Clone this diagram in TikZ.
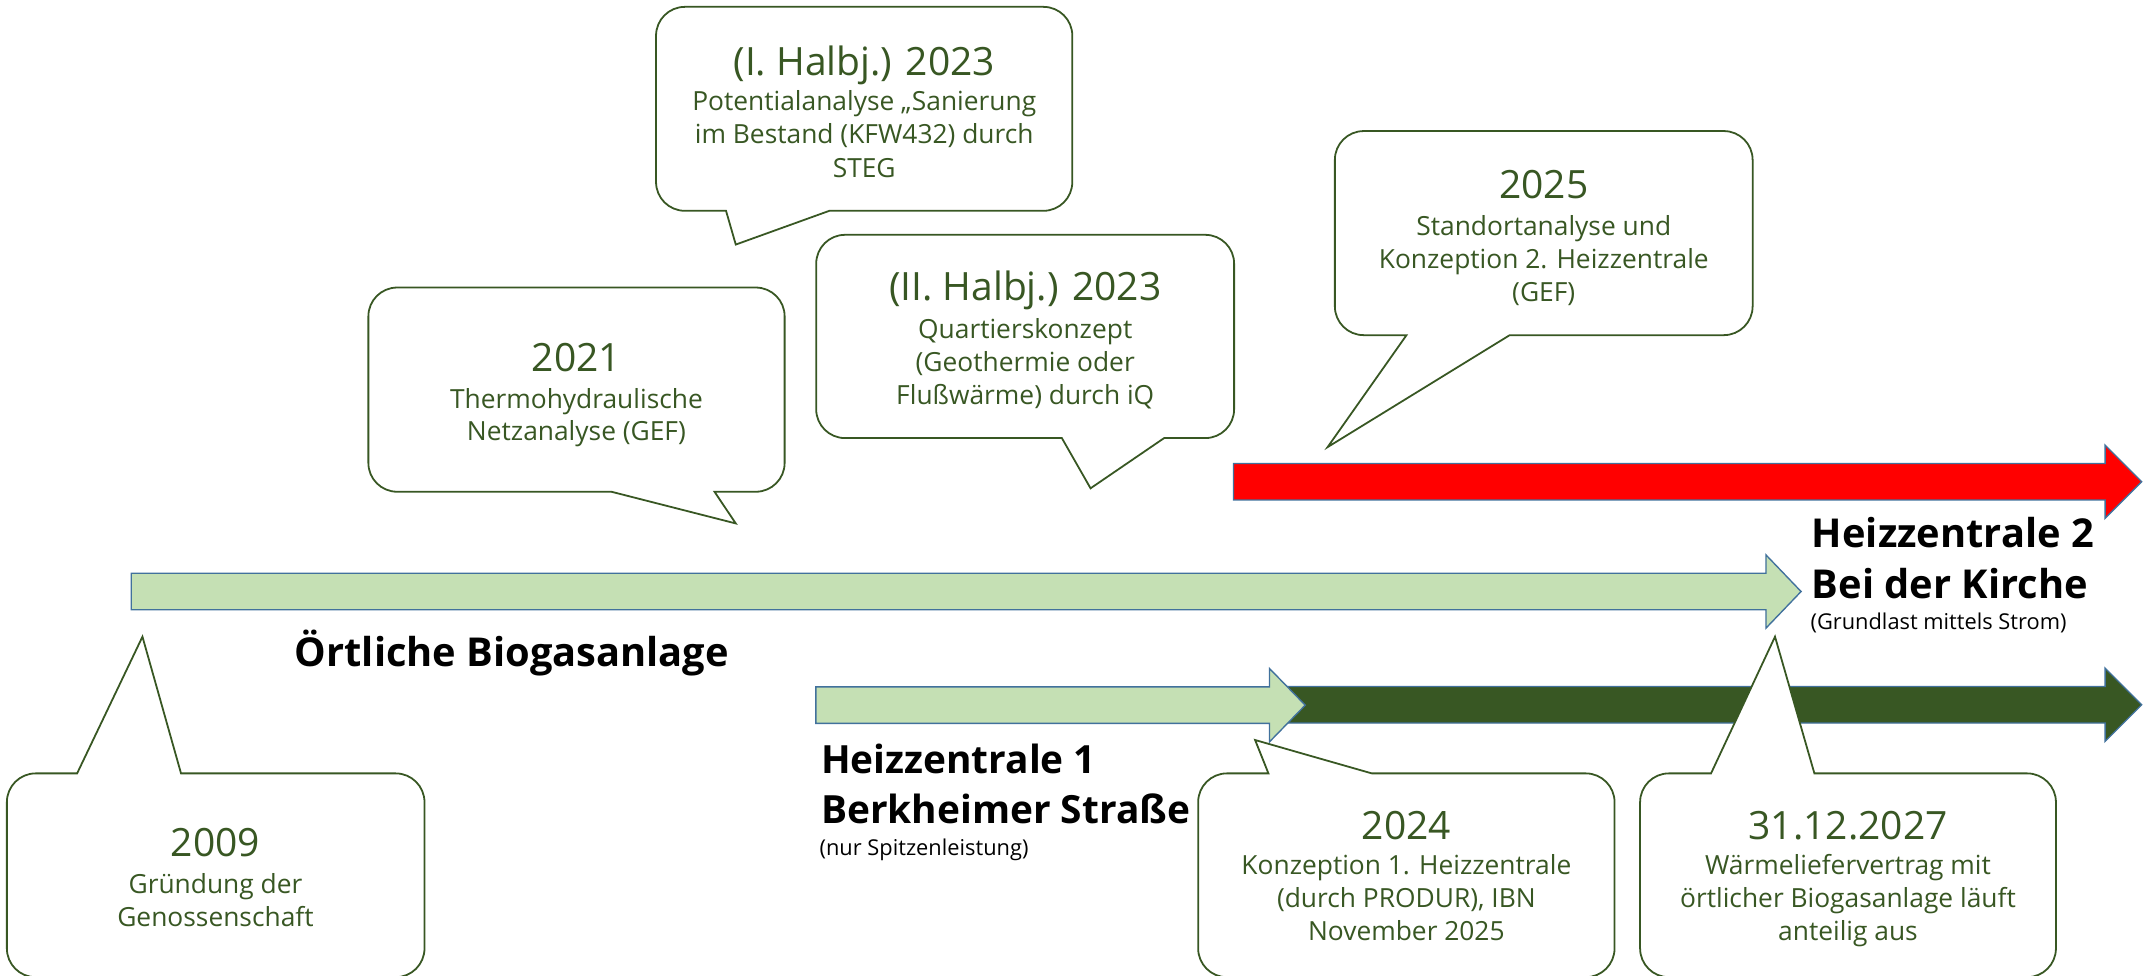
\documentclass[tikz,border=0pt]{standalone}
\usepackage{fontspec}
\setmainfont{Open Sans}
\definecolor{cgreen}{HTML}{385723}
\definecolor{lgreen}{HTML}{C5E0B4}
\definecolor{aline}{HTML}{41719C}
\definecolor{cred}{HTML}{FF0000}
\tikzset{
 callout/.style={draw=cgreen, fill=white, line width=1.3pt, line join=miter},
 arrowshape/.style={draw=aline, line width=1pt, line join=miter},
 yeartext/.style={text=cgreen, font=\fontsize{28.4}{34}\selectfont, anchor=base, inner sep=0pt},
 bodytext/.style={text=cgreen, font=\fontsize{19.2}{24}\selectfont, anchor=base, inner sep=0pt},
 boldlabel/.style={font=\fontsize{29}{35}\selectfont\bfseries, anchor=base west, inner sep=0pt},
 boldlabelb/.style={font=\fontsize{28.3}{35}\selectfont\bfseries, anchor=base west, inner sep=0pt},
 smalllabel/.style={font=\fontsize{15.9}{19}\selectfont, anchor=base west, inner sep=0pt},
}
\newcommand{\crad}{21}
\newcommand{\cq}{9.4}
% L T R B x1 x2 tx ty -- pointer on the bottom edge
\newcommand{\calloutdown}[8]{%
\filldraw[callout] (#1,#2+\crad) .. controls (#1,#2+\cq) and (#1+\cq,#2) .. (#1+\crad,#2)
 -- (#3-\crad,#2) .. controls (#3-\cq,#2) and (#3,#2+\cq) .. (#3,#2+\crad)
 -- (#3,#4-\crad) .. controls (#3,#4-\cq) and (#3-\cq,#4) .. (#3-\crad,#4)
 -- (#6,#4) -- (#7,#8) -- (#5,#4)
 -- (#1+\crad,#4) .. controls (#1+\cq,#4) and (#1,#4-\cq) .. (#1,#4-\crad) -- cycle;}
% L T R B x1 x2 tx ty -- pointer on the top edge
\newcommand{\calloutup}[8]{%
\filldraw[callout] (#1,#2+\crad) .. controls (#1,#2+\cq) and (#1+\cq,#2) .. (#1+\crad,#2)
 -- (#5,#2) -- (#7,#8) -- (#6,#2)
 -- (#3-\crad,#2) .. controls (#3-\cq,#2) and (#3,#2+\cq) .. (#3,#2+\crad)
 -- (#3,#4-\crad) .. controls (#3,#4-\cq) and (#3-\cq,#4) .. (#3-\crad,#4)
 -- (#1+\crad,#4) .. controls (#1+\cq,#4) and (#1,#4-\cq) .. (#1,#4-\crad) -- cycle;}
% x0 xbase xtip ycenter fill
\newcommand{\harrow}[5]{%
\filldraw[arrowshape, fill=#5] (#1,#4-13.3) -- (#2,#4-13.3) -- (#2,#4-26.7) -- (#3,#4)
 -- (#2,#4+26.7) -- (#2,#4+13.3) -- (#1,#4+13.3) -- cycle;}
\begin{document}
\begin{tikzpicture}[x=1pt,y=-1pt]
\useasboundingbox (0,0) rectangle (1568,711);
% arrows
\harrow{95.6}{1286.7}{1312.3}{431}{lgreen}
\harrow{930}{1533.8}{1560.5}{513.5}{cgreen}
\harrow{594.5}{925}{951}{513.8}{lgreen}
\harrow{898.7}{1533.8}{1560.5}{351}{cred}
% callouts
\calloutup{5}{563.5}{309.3}{712}{56.2}{131.9}{103.8}{463.9}
\calloutdown{268.4}{209.5}{571.7}{358.3}{445.5}{520.6}{536.1}{381.4}
\calloutdown{478}{5}{781.3}{153.6}{529}{604.3}{536.1}{178.2}
\calloutdown{594.7}{171.1}{899.2}{319.2}{773.7}{848.2}{794.6}{355.8}
\calloutdown{972.6}{95.5}{1277}{244.2}{1024.8}{1100}{967.3}{325.8}
\calloutup{873}{563.5}{1176.4}{712}{924.2}{999.5}{914.5}{539.2}
\calloutup{1195}{563.5}{1498}{712}{1246.7}{1322}{1293.3}{463.9}
% callout texts
\node[yeartext] (y2009) at (157,624.2) {2009};
\node[bodytext] (b2009a) at (157,651) {Gründung der};
\node[bodytext] (b2009b) at (157,675.3) {Genossenschaft};
\node[yeartext] (y2021) at (420,270.5) {2021};
\node[bodytext] (b2021a) at (420,297.3) {Thermohydraulische};
\node[bodytext] (b2021b) at (420,321.2) {Netzanalyse (GEF)};
\node[yeartext] (y2023a) at (629.7,54.7) {(I. Halbj.) 2023};
\node[bodytext] (b2023aa) at (629.7,80.8) {Potentialanalyse „Sanierung};
\node[bodytext] (b2023ab) at (629.7,104.9) {im Bestand (KFW432) durch};
\node[bodytext] (b2023ac) at (629.7,129.2) {STEG};
\node[yeartext] (y2023b) at (747,219) {(II. Halbj.) 2023};
\node[bodytext] (b2023ba) at (747,246.5) {Quartierskonzept};
\node[bodytext] (b2023bb) at (747,270.8) {(Geothermie oder};
\node[bodytext] (b2023bc) at (747,295) {Flußwärme) durch iQ};
\node[yeartext] (y2025) at (1124.8,144.4) {2025};
\node[bodytext] (b2025a) at (1124.8,171.5) {Standortanalyse und};
\node[bodytext] (b2025b) at (1124.8,195.8) {Konzeption 2. Heizzentrale};
\node[bodytext] (b2025c) at (1124.8,219.6) {(GEF)};
\node[yeartext] (y2024) at (1024.7,612) {2024};
\node[bodytext] (b2024a) at (1024.7,637) {Konzeption 1. Heizzentrale};
\node[bodytext] (b2024b) at (1024.7,661.3) {(durch PRODUR), IBN};
\node[bodytext] (b2024c) at (1024.7,685.6) {November 2025};
\node[yeartext] (y2027) at (1346.5,612) {31.12.2027};
\node[bodytext] (b2027a) at (1346.5,637) {Wärmeliefervertrag mit};
\node[bodytext] (b2027b) at (1346.5,661.3) {örtlicher Biogasanlage läuft};
\node[bodytext] (b2027c) at (1346.5,685.6) {anteilig aus};
% arrow labels
\node[boldlabel] (lbio) at (214.7,485.8) {Örtliche Biogasanlage};
\node[boldlabelb] (lhz1a) at (598,563.5) {Heizzentrale 1};
\node[boldlabelb] (lhz1b) at (598,600) {Berkheimer Straße};
\node[smalllabel] (lhz1c) at (597,623) {(nur Spitzenleistung)};
\node[boldlabel] (lhz2a) at (1320,399) {Heizzentrale 2};
\node[boldlabel] (lhz2b) at (1320,436) {Bei der Kirche};
\node[smalllabel] (lhz2c) at (1319,459) {(Grundlast mittels Strom)};
\end{tikzpicture}
\end{document}
